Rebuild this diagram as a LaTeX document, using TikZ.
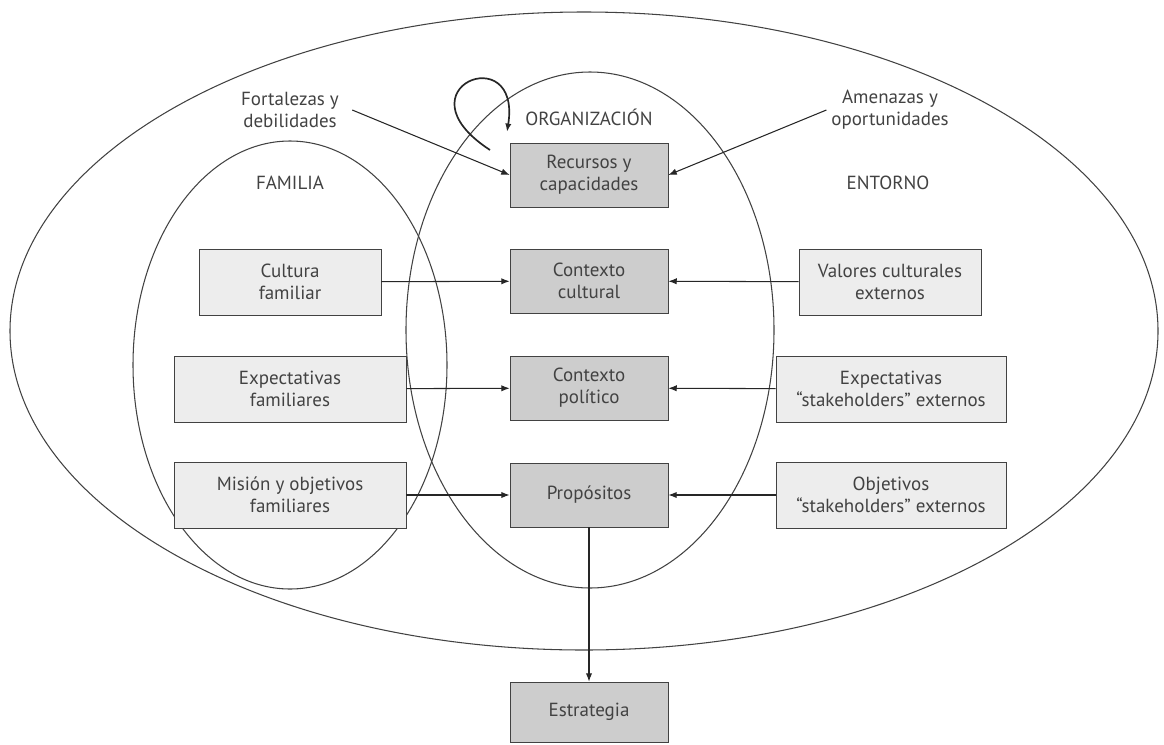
\documentclass[tikz,border=0pt]{standalone}
\usepackage{fontspec}
\setmainfont{PT Sans}
\usetikzlibrary{arrows.meta}
\definecolor{boxdark}{HTML}{CDCDCD}
\definecolor{boxlight}{HTML}{EDEDED}
\definecolor{ink}{HTML}{424242}

\begin{document}
\begin{tikzpicture}[x=0.025cm,y=-0.025cm,
    every node/.style={font=\fontsize{13.5}{15.8}\selectfont,text=ink,align=center},
    orgbox/.style={draw=ink,fill=boxdark,minimum width=3.95cm,minimum height=1.6cm},
    sidebox/.style={draw=ink,fill=boxlight,minimum height=1.65cm},
    link/.style={draw=black!85,line width=.75pt,-{Latex[length=6pt,width=4.5pt]}}]
        \useasboundingbox (0,0) rectangle (1164,744);
        % los tres conjuntos
        \draw[ink,line width=.75pt] (584,331) ellipse [x radius=574, y radius=319];
        \draw[ink,line width=.75pt] (290,365) ellipse [x radius=157, y radius=224];
        \draw[ink,line width=.75pt] (590,330) ellipse [x radius=184, y radius=258];
        \node (org) at (589,117) {ORGANIZACIÓN};
        \node (fam) at (290,183) {FAMILIA};
        \node (ent) at (888,183) {ENTORNO};
        \node (fort) at (290,110) {Fortalezas y\\debilidades};
        \node (amen) at (890,110) {Amenazas y\\oportunidades};
        % organizacion
        \node[orgbox] (rec) at (589,175) {Recursos y\\capacidades};
        \node[orgbox] (cult) at (589,281) {Contexto\\cultural};
        \node[orgbox] (pol) at (589,388) {Contexto\\político};
        \node[orgbox] (prop) at (589,495) {Propósitos};
        \node[orgbox,minimum height=1.5cm] (estr) at (589,712) {Estrategia};
        % familia
        \node[sidebox,minimum width=4.55cm] (famcult) at (290,282) {Cultura\\familiar};
        \node[sidebox,minimum width=5.8cm] (famexp) at (290,389) {Expectativas\\familiares};
        \node[sidebox,minimum width=5.8cm] (fammis) at (290,495) {Misión y objetivos\\familiares};
        % entorno
        \node[sidebox,minimum width=4.55cm] (extval) at (890,282) {Valores culturales\\externos};
        \node[sidebox,minimum width=5.75cm] (extexp) at (891,389) {Expectativas\\“stakeholders” externos};
        \node[sidebox,minimum width=5.75cm] (extobj) at (891,495) {Objetivos\\“stakeholders” externos};
        % flechas
        \coordinate (loopa) at (490,150);
        \coordinate (loopb) at (507,132);
        \draw[link,line width=1.2pt] (loopa) .. controls (395,88) and (522,38) .. (loopb);
        \draw[link] ([xshift=6pt]fort.east) -- (rec.west);
        \draw[link] (amen.west) -- (rec.east);
        \draw[link] (famcult) -- (cult);
        \draw[link] (famexp) -- (pol);
        \draw[link] (fammis) -- (prop);
        \draw[link] (extval) -- (cult);
        \draw[link] (extexp) -- (pol);
        \draw[link] (extobj) -- (prop);
        \draw[link] (prop) -- (estr);
\end{tikzpicture}
\end{document}
